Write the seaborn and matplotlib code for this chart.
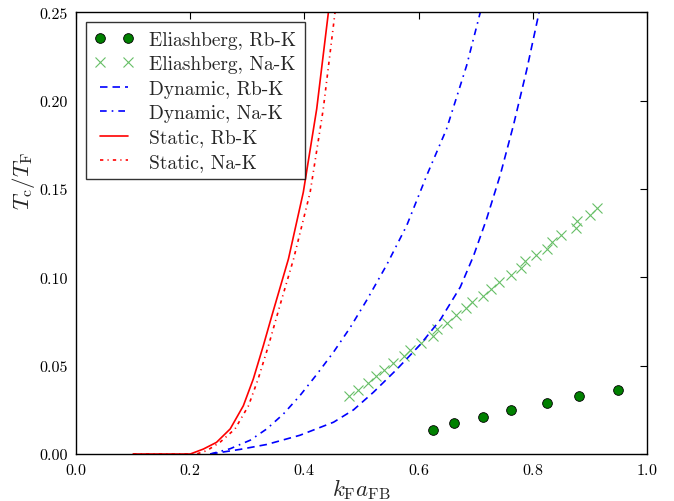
import matplotlib
matplotlib.use("Agg")
import matplotlib.pyplot as plt
import seaborn as sns

# Eliashberg results (markers)
eli_rbk_x = [0.625, 0.662, 0.712, 0.762, 0.825, 0.881, 0.949]
eli_rbk_y = [0.0134, 0.0175, 0.0211, 0.0249, 0.0290, 0.0328, 0.0364]

eli_nak_x = [0.478, 0.493, 0.512, 0.525, 0.539, 0.555, 0.575, 0.585, 0.605,
             0.625, 0.633, 0.650, 0.666, 0.683, 0.694, 0.712, 0.726, 0.740,
             0.762, 0.779, 0.786, 0.806, 0.825, 0.833, 0.849, 0.875, 0.878,
             0.900, 0.912]
eli_nak_y = [0.0328, 0.0362, 0.0404, 0.0440, 0.0477, 0.0513, 0.0556, 0.0590, 0.0631,
             0.0670, 0.0707, 0.0744, 0.0785, 0.0825, 0.0859, 0.0896, 0.0934, 0.0972,
             0.1011, 0.1054, 0.1090, 0.1126, 0.1160, 0.1198, 0.1238, 0.1277, 0.1317,
             0.1354, 0.1391]

# Dynamic screening curves
dyn_rbk_x = [0.235, 0.287, 0.334, 0.392, 0.451, 0.486, 0.521, 0.562, 0.603,
             0.638, 0.673, 0.696, 0.719, 0.743, 0.766, 0.789, 0.811]
dyn_rbk_y = [0.0, 0.0026, 0.0054, 0.0106, 0.0180, 0.0250, 0.0350, 0.0480, 0.0620,
             0.0760, 0.0945, 0.1120, 0.1330, 0.1580, 0.1860, 0.2170, 0.25]

dyn_nak_x = [0.235, 0.270, 0.305, 0.334, 0.363, 0.392, 0.4215, 0.4506, 0.480,
             0.509, 0.544, 0.579, 0.614, 0.649, 0.684, 0.708]
dyn_nak_y = [0.0, 0.003, 0.0078, 0.0142, 0.0226, 0.033, 0.045, 0.0575, 0.0715,
             0.087, 0.107, 0.1292, 0.1575, 0.184, 0.2198, 0.25]

# Static screening curves
sta_rbk_x = [0.1, 0.2, 0.223, 0.246, 0.270, 0.293, 0.3105, 0.328, 0.343,
             0.3515, 0.372, 0.398, 0.4215, 0.442]
sta_rbk_y = [0.0, 0.0, 0.0028, 0.0066, 0.0142, 0.0273, 0.0425, 0.0613, 0.0783,
             0.0877, 0.1104, 0.1481, 0.1953, 0.25]

sta_nak_x = [0.1, 0.211, 0.229, 0.252, 0.2785, 0.302, 0.319, 0.337, 0.357,
             0.381, 0.410, 0.433, 0.4536]
sta_nak_y = [0.0, 0.0, 0.0019, 0.0066, 0.0142, 0.0273, 0.0425, 0.0613, 0.084,
             0.1104, 0.1481, 0.1953, 0.25]

sns.set_style("white")
plt.rcParams['font.family'] = 'serif'
plt.rcParams['font.serif'] = ['cmr10', 'DejaVu Serif']
plt.rcParams['mathtext.fontset'] = 'cm'
plt.rcParams['axes.formatter.use_mathtext'] = True
plt.rcParams['axes.unicode_minus'] = False

fig = plt.figure(figsize=(6.74, 5.02), dpi=100)
ax = fig.add_axes([0.1128, 0.0936, 0.8472, 0.88])

cross_col = (0.4, 0.75, 0.4)
sns.lineplot(x=eli_rbk_x, y=eli_rbk_y, ax=ax, color=(0, 0.5, 0), marker='o',
             linestyle='', markersize=7, markeredgecolor='black', markeredgewidth=0.6,
             label='Eliashberg, Rb-K', estimator=None, sort=False)
sns.lineplot(x=eli_nak_x, y=eli_nak_y, ax=ax, color=cross_col, marker='x',
             linestyle='', markersize=6.5, markeredgecolor=cross_col,
             markeredgewidth=0.8, label='Eliashberg, Na-K', estimator=None, sort=False)
sns.lineplot(x=dyn_rbk_x, y=dyn_rbk_y, ax=ax, color='blue', lw=1.2,
             linestyle=(0, (4.5, 3)), label='Dynamic, Rb-K', estimator=None, sort=False)
sns.lineplot(x=dyn_nak_x, y=dyn_nak_y, ax=ax, color='blue', lw=1.2,
             linestyle=(0, (4, 3, 1, 3)), label='Dynamic, Na-K', estimator=None, sort=False)
sns.lineplot(x=sta_rbk_x, y=sta_rbk_y, ax=ax, color='red', lw=1.2,
             linestyle='-', label='Static, Rb-K', estimator=None, sort=False)
sns.lineplot(x=sta_nak_x, y=sta_nak_y, ax=ax, color='red', lw=1.2,
             linestyle=(0, (2, 2.5, 0.7, 2.5)), label='Static, Na-K', estimator=None, sort=False)

ax.set_xlim(0.0, 1.0)
ax.set_ylim(0.0, 0.25)
ax.set_xticks([0.0, 0.2, 0.4, 0.6, 0.8, 1.0])
ax.set_yticks([0.0, 0.05, 0.10, 0.15, 0.20, 0.25])
ax.set_yticklabels(['0.00', '0.05', '0.10', '0.15', '0.20', '0.25'])
ax.tick_params(direction='in', length=5, width=0.8, top=True, right=True,
               labelsize=11.5, colors='black', pad=6)
for s in ax.spines.values():
    s.set_color('black')
    s.set_linewidth(1.0)

ax.set_xlabel(r'$k_{\rm F}a_{\rm FB}$', fontsize=16.5)
ax.set_ylabel(r'$T_{\rm c}/T_{\rm F}$', fontsize=16.5)
ax.xaxis.set_label_coords(0.5, -0.05)
ax.yaxis.set_label_coords(-0.068, 0.62)

leg = ax.legend(loc='upper left', numpoints=2, fontsize=14, frameon=True,
                fancybox=False, borderpad=0.45, labelspacing=0.33, handlelength=2.0,
                handletextpad=0.8, borderaxespad=0.5)
leg.get_frame().set_edgecolor('black')
leg.get_frame().set_linewidth(1.0)

fig.savefig('out.png', dpi=100)
